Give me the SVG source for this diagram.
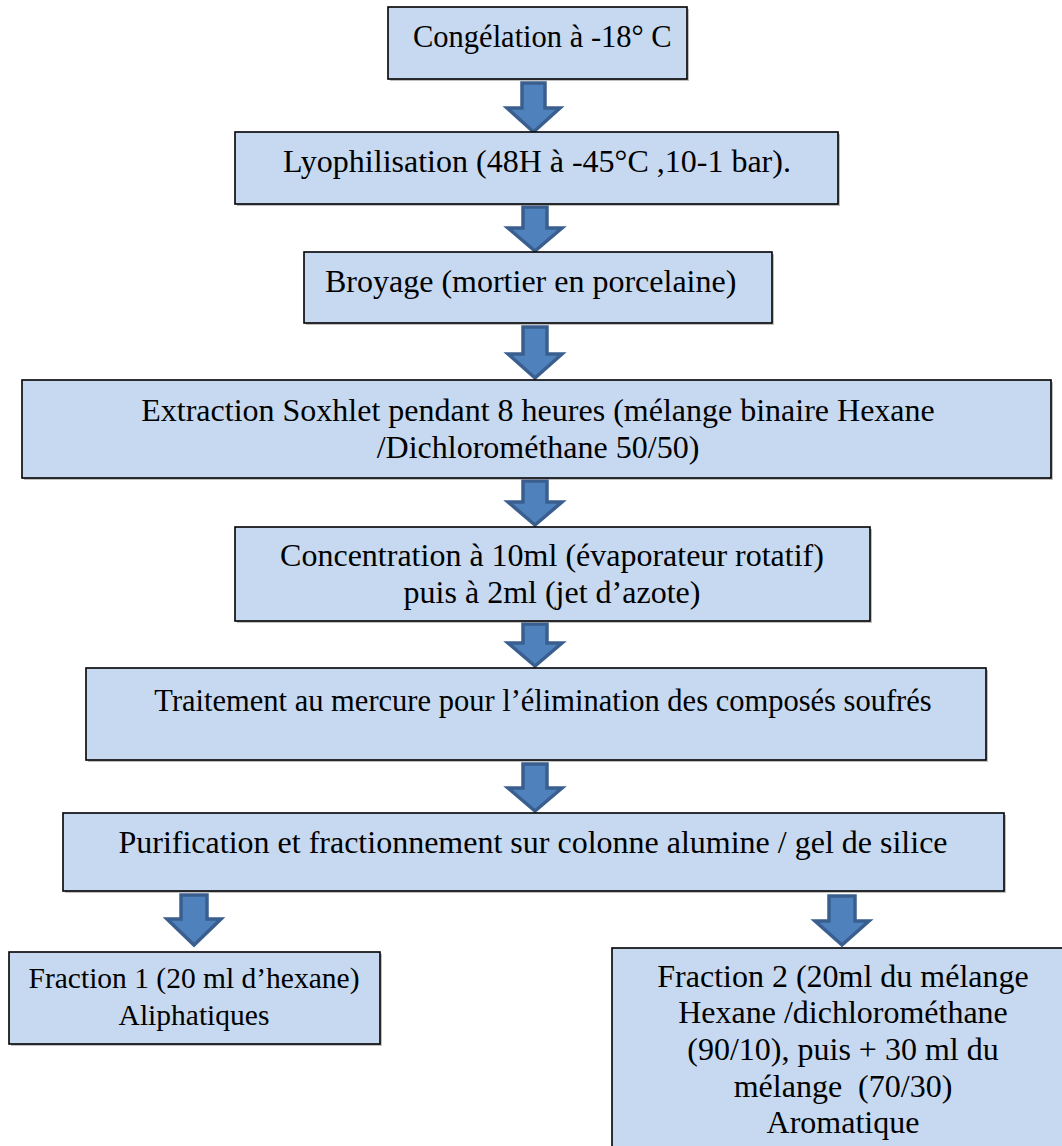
<svg xmlns="http://www.w3.org/2000/svg" width="1062" height="1146" viewBox="0 0 1062 1146">
<style>
.box{fill:#C6D9F1;stroke:#000;stroke-width:1.6}
.sh{fill:#8c8c8c;opacity:0.55}
.t{font-family:"Liberation Serif","Times New Roman",serif;font-size:32px;fill:#000}
.s{font-size:30.5px}
.f{font-size:29.5px}
.c{text-anchor:middle}
.arr{fill:#4F81BD;stroke:#3A5F8F;stroke-width:3.5;stroke-linejoin:miter}
</style>
<rect width="1062" height="1146" fill="#fff"/>
<g id="connectors">
<polygon class="arr" points="522,83 545,83 545,108 560,108 533.5,132 507,108 522,108"/>
<polygon class="arr" points="523,207 547,207 547,228 562,228 535,251 508,228 523,228"/>
<polygon class="arr" points="523,327 547,327 547,354 562,354 535,378 508,354 523,354"/>
<polygon class="arr" points="523,481 547,481 547,502 562,502 535,525 508,502 523,502"/>
<polygon class="arr" points="523,624 547,624 547,643 562,643 535,666 508,643 523,643"/>
<polygon class="arr" points="523,764 547,764 547,788 562,788 535,811 508,788 523,788"/>
<polygon class="arr" points="181,895 207,895 207,919 221,919 194,945 167,919 181,919"/>
<polygon class="arr" points="829,896 855,896 855,921 869,921 842,945 815,921 829,921"/>
</g>
<g id="n1">
<rect class="sh" x="390" y="9" width="299" height="72"/>
<rect class="box" x="388" y="7" width="299" height="72"/>
<text class="t s" x="413" y="47">Congélation à -18° C</text>
</g>
<g id="n2">
<rect class="sh" x="237" y="134" width="603" height="72"/>
<rect class="box" x="235" y="132" width="603" height="72"/>
<text class="t c" x="537" y="172">Lyophilisation (48H à -45°C ,10-1 bar).</text>
</g>
<g id="n3">
<rect class="sh" x="306" y="254" width="468" height="71"/>
<rect class="box" x="304" y="252" width="468" height="71"/>
<text class="t" x="325" y="292">Broyage (mortier en porcelaine)</text>
</g>
<g id="n4">
<rect class="sh" x="24" y="382" width="1029" height="98"/>
<rect class="box" x="22" y="380" width="1029" height="98"/>
<text class="t c" x="538" y="421">Extraction Soxhlet pendant 8 heures (mélange binaire Hexane</text>
<text class="t c" x="538" y="458">/Dichlorométhane 50/50)</text>
</g>
<g id="n5">
<rect class="sh" x="237" y="529" width="635" height="94"/>
<rect class="box" x="235" y="527" width="635" height="94"/>
<text class="t c" x="552" y="566">Concentration à 10ml (évaporateur rotatif)</text>
<text class="t c" x="552" y="603">puis à 2ml (jet d’azote)</text>
</g>
<g id="n6">
<rect class="sh" x="88" y="670" width="900" height="92"/>
<rect class="box" x="86" y="668" width="900" height="92"/>
<text class="t s c" x="543" y="711">Traitement au mercure pour l’élimination des composés soufrés</text>
</g>
<g id="n7">
<rect class="sh" x="65" y="815" width="941" height="78"/>
<rect class="box" x="63" y="813" width="941" height="78"/>
<text class="t c" x="533" y="853">Purification et fractionnement sur colonne alumine / gel de silice</text>
</g>
<g id="n8">
<rect class="sh" x="11" y="954" width="371" height="92"/>
<rect class="box" x="9" y="952" width="371" height="92"/>
<text class="t f c" x="194" y="988">Fraction 1 (20 ml d’hexane)</text>
<text class="t f c" x="194" y="1025">Aliphatiques</text>
</g>
<g id="n9">
<rect class="sh" x="614" y="950" width="462" height="210"/>
<rect class="box" x="612" y="948" width="462" height="210"/>
<text class="t c" x="843" y="987">Fraction 2 (20ml du mélange</text>
<text class="t c" x="843" y="1023">Hexane /dichlorométhane</text>
<text class="t c" x="843" y="1060">(90/10), puis + 30 ml du</text>
<text class="t c" x="843" y="1097" xml:space="preserve">mélange  (70/30)</text>
<text class="t c" x="843" y="1133">Aromatique</text>
</g>
</svg>
